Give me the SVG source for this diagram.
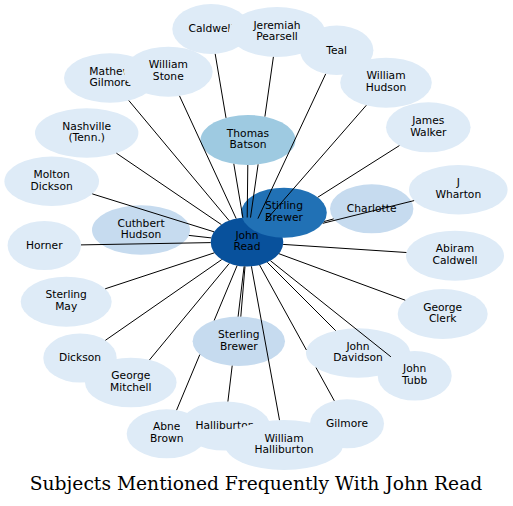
<svg xmlns="http://www.w3.org/2000/svg" width="513" height="506" viewBox="0 0 513 506">
<style>
.n text{font-family:"DejaVu Sans",Verdana,sans-serif;font-size:10.7px;text-anchor:middle;fill:#000}
.l{fill:#deebf7}
.m{fill:#c6dbef}
#edges path{stroke:#000;stroke-width:1;fill:none}
.title{font-family:"DejaVu Serif",serif;font-size:18.7px;text-anchor:middle;fill:#000}
</style>
<rect width="513" height="506" fill="#fff"/>
<g id="nodes">
<g id="john-read" class="n"><ellipse cx="247" cy="242" rx="36.3" ry="24.5" fill="#08519c"/><text x="247" y="238.7">John</text><text x="247" y="250.4">Read</text></g>
<g id="stirling-brewer" class="n"><ellipse cx="284" cy="212.7" rx="42.8" ry="25" fill="#2171b5"/><text x="284" y="209.4">Stirling</text><text x="284" y="221.1">Brewer</text></g>
<g id="thomas-batson" class="n"><ellipse cx="248" cy="140" rx="47.5" ry="25" fill="#9ecae1"/><text x="248" y="136.7">Thomas</text><text x="248" y="148.4">Batson</text></g>
<g id="cuthbert-hudson" class="n"><ellipse class="m" cx="141" cy="230" rx="49" ry="24.7"/><text x="141" y="226.6">Cuthbert</text><text x="141" y="238.3">Hudson</text></g>
<g id="charlotte" class="n"><ellipse class="m" cx="371.7" cy="208.8" rx="41.7" ry="24.5"/><text x="371.7" y="212.1">Charlotte</text></g>
<g id="sterling-brewer" class="n"><ellipse class="m" cx="238.8" cy="341.3" rx="46.2" ry="24.7"/><text x="238.8" y="337.9">Sterling</text><text x="238.8" y="349.6">Brewer</text></g>
<g id="horner" class="n"><ellipse class="l" cx="44.3" cy="245.5" rx="36.7" ry="24.5"/><text x="44.3" y="248.8">Horner</text></g>
<g id="molton-dickson" class="n"><ellipse class="l" cx="51.7" cy="181.3" rx="47.3" ry="24.7"/><text x="51.7" y="177.9">Molton</text><text x="51.7" y="189.6">Dickson</text></g>
<g id="nashville" class="n"><ellipse class="l" cx="86.7" cy="133" rx="51.7" ry="24.7"/><text x="86.7" y="129.6">Nashville</text><text x="86.7" y="141.3">(Tenn.)</text></g>
<g id="mathew-gilmore" class="n"><ellipse class="l" cx="110" cy="78" rx="46" ry="24.7"/><text x="110.4" y="74.6">Mathew</text><text x="110.4" y="86.3">Gilmore</text></g>
<g id="william-stone" class="n"><ellipse class="l" cx="168.3" cy="71.7" rx="44.4" ry="25"/><text x="168.3" y="68.3">William</text><text x="168.3" y="80">Stone</text></g>
<g id="caldwell" class="n"><ellipse class="l" cx="211" cy="29" rx="38.7" ry="25"/><text x="211" y="32.3">Caldwell</text></g>
<g id="jeremiah-pearsell" class="n"><ellipse class="l" cx="277" cy="32" rx="48" ry="25"/><text x="277" y="28.6">Jeremiah</text><text x="277" y="40.3">Pearsell</text></g>
<g id="teal" class="n"><ellipse class="l" cx="336.7" cy="50.3" rx="36.7" ry="24.7"/><text x="336.7" y="53.6">Teal</text></g>
<g id="william-hudson" class="n"><ellipse class="l" cx="386" cy="82.7" rx="45.8" ry="25"/><text x="386" y="79.3">William</text><text x="386" y="91">Hudson</text></g>
<g id="james-walker" class="n"><ellipse class="l" cx="428.3" cy="127.3" rx="42.3" ry="25"/><text x="428.3" y="123.9">James</text><text x="428.3" y="135.6">Walker</text></g>
<g id="j-wharton" class="n"><ellipse class="l" cx="458.3" cy="189.7" rx="49.3" ry="24.7"/><text x="458.3" y="186.3">J</text><text x="458.3" y="198">Wharton</text></g>
<g id="abiram-caldwell" class="n"><ellipse class="l" cx="455" cy="255.7" rx="49" ry="25"/><text x="455" y="252.3">Abiram</text><text x="455" y="264">Caldwell</text></g>
<g id="george-clerk" class="n"><ellipse class="l" cx="442.7" cy="314" rx="45" ry="25"/><text x="442.7" y="310.6">George</text><text x="442.7" y="322.3">Clerk</text></g>
<g id="john-davidson" class="n"><ellipse class="l" cx="358" cy="353" rx="52" ry="24.7"/><text x="358" y="349.6">John</text><text x="358" y="361.3">Davidson</text></g>
<g id="john-tubb" class="n"><ellipse class="l" cx="414.7" cy="375.8" rx="37" ry="24.8"/><text x="414.7" y="372.4">John</text><text x="414.7" y="384.1">Tubb</text></g>
<g id="gilmore" class="n"><ellipse class="l" cx="347" cy="423.8" rx="37" ry="24.5"/><text x="347" y="427.1">Gilmore</text></g>
<g id="abne-brown" class="n"><ellipse class="l" cx="166.7" cy="433.8" rx="40" ry="24.5"/><text x="166.7" y="430.4">Abne</text><text x="166.7" y="442.1">Brown</text></g>
<g id="halliburton" class="n"><ellipse class="l" cx="225" cy="426" rx="45" ry="24.5"/><text x="225" y="429.3">Halliburton</text></g>
<g id="william-halliburton" class="n"><ellipse class="l" cx="284" cy="445" rx="59" ry="25"/><text x="284" y="441.6">William</text><text x="284" y="453.3">Halliburton</text></g>
<g id="dickson" class="n"><ellipse class="l" cx="80" cy="358" rx="36.7" ry="24.5"/><text x="80" y="361.3">Dickson</text></g>
<g id="george-mitchell" class="n"><ellipse class="l" cx="130.8" cy="382.5" rx="45.8" ry="24.8"/><text x="130.8" y="379.1">George</text><text x="130.8" y="390.8">Mitchell</text></g>
<g id="sterling-may" class="n"><ellipse class="l" cx="66.2" cy="301.7" rx="45.5" ry="25"/><text x="66.2" y="298.3">Sterling</text><text x="66.2" y="310">May</text></g>
</g>
<g id="edges">
<path d="M211.2,237.9L188.8,235.4"/>
<path d="M210.7,242.6L81,244.9"/>
<path d="M214,231.8L92.3,193.9"/>
<path d="M221.4,224.6L116.4,153.2"/>
<path d="M229.2,220.7L128.8,100.5"/>
<path d="M236.2,218.6L179.5,95.9"/>
<path d="M242.9,217.7L233.8,163.8M226,117.9L215.2,53.9"/>
<path d="M250.5,217.6L258.1,164.4M264.9,116.6L273.4,56.9"/>
<path d="M247.2,217.5L247.8,165"/>
<path d="M257.9,218.6L325.7,73.9"/>
<path d="M265.4,220.9L366.3,105.3"/>
<path d="M317.7,197.3L399.4,145.6"/>
<path d="M324.1,221.5L333.7,218.9"/>
<path d="M322.8,223.3L414.1,200.6"/>
<path d="M283.1,244.4L406.4,252.5"/>
<path d="M278.9,253.7L405.2,300.2"/>
<path d="M267.3,262.3L335.7,330.7"/>
<path d="M270.4,260.7L390.9,356.8"/>
<path d="M259.6,265L306.4,350M316,367.6L334.3,400.8"/>
<path d="M251.4,266.3L279.5,420.1"/>
<path d="M245,266.5L240.8,316.6"/>
<path d="M244.1,266.4L238.1,316.6M232.2,365.7L227.9,401.5"/>
<path d="M237.1,265.6L214.2,320.4M199.8,354.6L176.6,410.1"/>
<path d="M229.3,263.4L149.5,359.9"/>
<path d="M221.7,259.6L105.4,340.3"/>
<path d="M214.4,252.8L105.2,288.8"/>
</g>
<text class="title" x="256" y="490">Subjects Mentioned Frequently With John Read</text>
</svg>
